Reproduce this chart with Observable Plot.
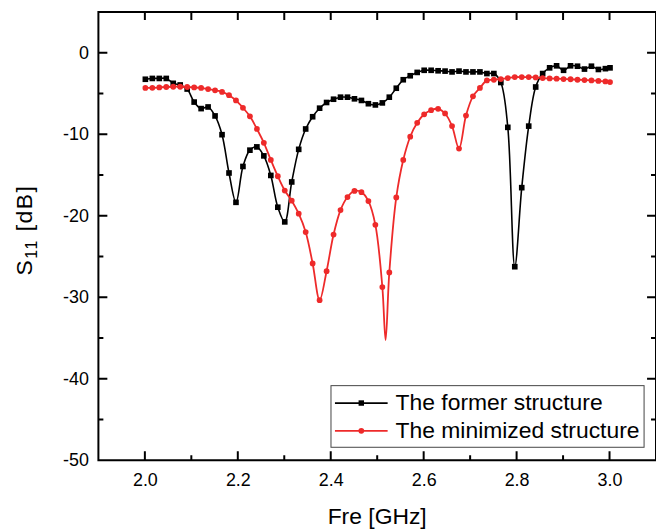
<!DOCTYPE html>
<html><head><meta charset="utf-8">
<script src="https://cdn.jsdelivr.net/npm/d3@7"></script>
<script src="https://cdn.jsdelivr.net/npm/@observablehq/plot@0.6"></script>
<style>html,body{margin:0;padding:0;background:#fff;overflow:hidden;width:656px;height:531px}</style>
</head><body><div id="chart"></div>
<script>
// Frequencies of the plotted (marker) points, GHz
const freq = [
  2.000,2.015,2.030,2.045,2.060,2.075,2.090,2.105,2.120,2.135,
  2.150,2.165,2.180,2.195,2.210,2.225,2.240,2.255,2.270,2.285,
  2.300,2.315,2.330,2.345,2.360,2.375,2.390,2.405,2.420,2.435,
  2.450,2.465,2.480,2.495,2.510,2.525,2.540,2.555,2.570,2.585,
  2.600,2.615,2.630,2.645,2.660,2.675,2.690,2.705,2.720,2.735,
  2.750,2.765,2.780,2.795,2.810,2.825,2.840,2.855,2.870,2.885,
  2.900,2.915,2.930,2.945,2.960,2.975,2.990,3.000
];
// S11 of the former structure, dB
const formerS11 = [
  -3.2,-3.1,-3.1,-3.1,-3.7,-3.9,-4.4,-6.0,-6.8,-6.6,
  -7.7,-10.0,-14.7,-18.3,-13.9,-11.9,-11.5,-12.6,-15.0,-18.9,
  -20.7,-15.8,-11.8,-9.3,-7.8,-6.75,-6.05,-5.65,-5.4,-5.4,
  -5.6,-5.8,-6.2,-6.35,-6.1,-5.4,-4.3,-3.26,-2.77,-2.36,
  -2.1,-2.1,-2.16,-2.2,-2.3,-2.2,-2.3,-2.3,-2.3,-2.5,
  -2.5,-3.6,-9.1,-26.2,-16.5,-8.95,-4.15,-2.5,-1.8,-1.55,
  -2.1,-1.55,-1.6,-1.95,-1.6,-2.0,-1.9,-1.8
];
// S11 of the minimized structure, dB
const minimizedS11 = [
  -4.27,-4.25,-4.2,-4.15,-4.12,-4.12,-4.15,-4.2,-4.27,-4.4,
  -4.56,-4.75,-5.15,-5.8,-6.7,-7.75,-9.3,-11.0,-13.1,-15.1,
  -16.85,-18.1,-19.7,-21.95,-25.8,-30.3,-26.75,-22.25,-19.25,-17.65,
  -16.9,-17.05,-18.15,-21.06,-28.7,-26.9,-17.7,-13.1,-10.25,-8.54,
  -7.5,-7.0,-6.83,-7.4,-8.95,-11.7,-7.65,-5.3,-4.27,-3.34,
  -3.26,-3.17,-3.05,-2.93,-2.93,-2.93,-2.97,-3.05,-3.1,-3.13,
  -3.17,-3.2,-3.26,-3.3,-3.34,-3.4,-3.46,-3.55
];
// line-only point (resonance bottom between markers) of the minimized curve
const minimizedDipFreq = [2.517];
const minimizedDipS11 = [-35.2];

const xMajorTicks = [2.0, 2.2, 2.4, 2.6, 2.8, 3.0];
const xMinorTicks = [2.1, 2.3, 2.5, 2.7, 2.9];
const yMajorTicks = [0, -10, -20, -30, -40, -50];
const yMinorTicks = [-5, -15, -25, -35, -45];
const seriesNames = ["The former structure", "The minimized structure"];
const seriesColors = ["#000000", "#ee2a2a"];
const xTitle = "Fre [GHz]";
const yTitleMain = "S", yTitleSub = "11", yTitleRest = " [dB]";

const former = freq.map((f, i) => ({f, v: formerS11[i]}));
const minimized = freq.map((f, i) => ({f, v: minimizedS11[i]}));
const minimizedLine = minimized
  .concat(minimizedDipFreq.map((f, i) => ({f, v: minimizedDipS11[i]})))
  .sort((a, b) => a.f - b.f);

const font = "'Liberation Sans', Arial, Helvetica, sans-serif";
const W = 660, H = 531, mL = 99, mT = 12, mB = 68, mR = 0;

const plot = Plot.plot({
  width: W, height: H,
  marginLeft: mL, marginTop: mT, marginBottom: mB, marginRight: mR,
  style: {fontFamily: font, fontSize: "18px", color: "#000", background: "#fff", overflow: "visible"},
  x: {domain: [1.9, 3.1], ticks: xMajorTicks, tickSize: 0, tickPadding: 13, tickFormat: d => d.toFixed(1), label: null},
  y: {domain: [-50, 5], ticks: yMajorTicks, tickSize: 0, tickPadding: 10, tickFormat: d => String(d), label: null},
  marks: [
    Plot.lineY(former, {x: "f", y: "v", stroke: seriesColors[0], strokeWidth: 1.6, curve: "catmull-rom"}),
    Plot.dot(former, {x: "f", y: "v", symbol: "square", r: 3.2, fill: seriesColors[0]}),
    Plot.lineY(minimizedLine, {x: "f", y: "v", stroke: seriesColors[1], strokeWidth: 1.8, curve: "catmull-rom"}),
    Plot.dot(minimized, {x: "f", y: "v", r: 2.9, fill: seriesColors[1]})
  ]
});

const svg = d3.select(plot);
const xs = plot.scale("x"), ys = plot.scale("y");
const x0 = Math.min(...xs.range), x1 = Math.max(...xs.range);
const yB = Math.max(...ys.range), yT = Math.min(...ys.range);
const cx = (x0 + x1) / 2, cy = (yB + yT) / 2;

// axis titles
svg.append("text")
  .attr("x", cx).attr("y", H - 4)
  .attr("text-anchor", "middle")
  .attr("font-family", font).attr("font-size", 23).attr("fill", "#000")
  .text(xTitle);

const yt = svg.append("text")
  .attr("transform", `translate(32,${cy - 6}) rotate(-90)`)
  .attr("text-anchor", "middle")
  .attr("font-family", font).attr("font-size", 23).attr("fill", "#000")
  .attr("letter-spacing", 1.5);
yt.append("tspan").text(yTitleMain);
yt.append("tspan").attr("font-size", 16).attr("dy", 5).text(yTitleSub);
yt.append("tspan").attr("dy", -5).text(yTitleRest);

// legend
const lg = svg.append("g").attr("font-family", font).attr("text-anchor", "start");
const lgX = 333, lgY = 388, lgW = 315, lgH = 62;
lg.append("rect").attr("x", lgX).attr("y", lgY).attr("width", lgW).attr("height", lgH)
  .attr("fill", "#fff").attr("stroke", "#444").attr("stroke-width", 1);
const rowY = [lgY + 17.5, lgY + 45.5];
seriesNames.forEach((name, i) => {
  const y = rowY[i];
  lg.append("line").attr("x1", lgX + 4).attr("x2", lgX + 57).attr("y1", y).attr("y2", y)
    .attr("stroke", seriesColors[i]).attr("stroke-width", 1.8);
  const sym = i === 0 ? d3.symbolSquare : d3.symbolCircle;
  lg.append("path").attr("d", d3.symbol(sym, i === 0 ? 30 : 26)())
    .attr("transform", `translate(${lgX + 30.5},${y})`).attr("fill", seriesColors[i]);
  lg.append("text").attr("x", lgX + 65).attr("y", y + 7.5)
    .attr("text-anchor", "start")
    .attr("font-size", 23).attr("fill", "#000").text(name);
});

// frame and inward ticks as one path, placed through Plot's scales, drawn last
const p = d3.path();
p.moveTo(x0, yT); p.lineTo(x1, yT); p.lineTo(x1, yB); p.lineTo(x0, yB); p.closePath();
xMajorTicks.forEach(v => { const q = xs.apply(v); p.moveTo(q, yB); p.lineTo(q, yB - 9); p.moveTo(q, yT); p.lineTo(q, yT + 8); });
xMinorTicks.forEach(v => { const q = xs.apply(v); p.moveTo(q, yB); p.lineTo(q, yB - 5); p.moveTo(q, yT); p.lineTo(q, yT + 8); });
yMajorTicks.forEach(v => { const q = ys.apply(v); p.moveTo(x0, q); p.lineTo(x0 + 9, q); p.moveTo(x1, q); p.lineTo(x1 - 9, q); });
yMinorTicks.forEach(v => { const q = ys.apply(v); p.moveTo(x0, q); p.lineTo(x0 + 5, q); p.moveTo(x1, q); p.lineTo(x1 - 5, q); });
svg.append("path").attr("d", p.toString())
  .attr("fill", "none").attr("stroke", "#000").attr("stroke-width", 2);

document.getElementById("chart").appendChild(plot);
</script>
</body></html>
